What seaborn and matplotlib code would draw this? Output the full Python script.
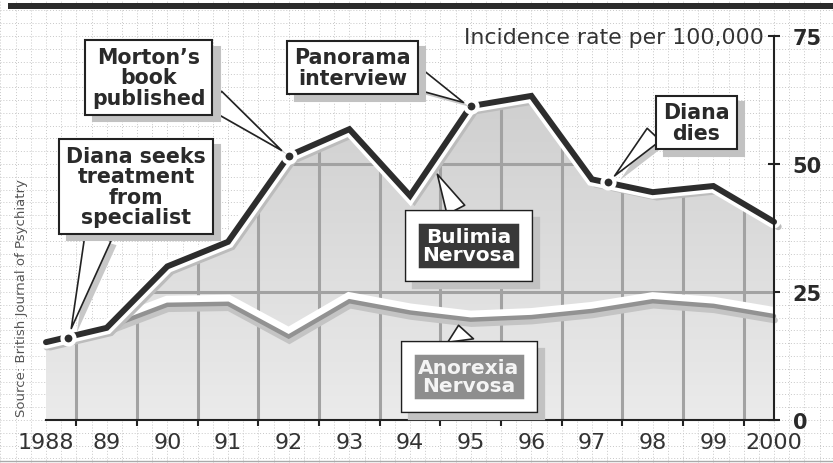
import matplotlib
matplotlib.use("Agg")
import matplotlib.pyplot as plt
import matplotlib.patheffects as pe
from matplotlib.colors import LinearSegmentedColormap
from matplotlib.lines import Line2D
from matplotlib.patches import Rectangle
import numpy as np
import seaborn as sns

# values (incidence per 100,000)
years = [1988, 1989, 1990, 1991, 1992, 1993, 1994, 1995, 1996, 1997, 1998, 1999, 2000]
bulimia = [15.2, 18.0, 30.0, 34.8, 51.6, 56.8, 43.8, 61.3, 63.3, 47.0, 44.5, 45.7, 38.7]
anorexia = [15.0, 18.0, 22.5, 22.7, 16.3, 23.2, 21.0, 19.6, 20.1, 21.3, 23.2, 22.3, 20.3]
year_labels = ["1988", "89", "90", "91", "92", "93", "94", "95", "96", "97", "98", "99", "2000"]
rate_ticks = [0, 25, 50, 75]

# events marked on the bulimia line
event_years = [1988.37, 1992.0, 1995.0, 1997.27]
event_rates = [16.0, 51.6, 61.3, 46.4]
event_names = ["Diana seeks\ntreatment\nfrom\nspecialist", "Morton\u2019s\nbook\npublished",
               "Panorama\ninterview", "Diana\ndies"]

sns.set_style("white")
plt.rcParams["font.family"] = ["DejaVu Sans"]

W, H = 833, 464
fig = plt.figure(figsize=(W / 100, H / 100), dpi=100)
ax = fig.add_axes([0, 0, 1, 1])
x0, sx = 46, 60.67   # px of 1988, px per year
y0, sy = 421, 5.12   # px of 0, px per unit
xlim = (1988 - x0 / sx, 1988 + (W - x0) / sx)
ylim = (-(H - y0) / sy, y0 / sy)

# graph-paper background
ax.vlines(np.arange(1987.25, 2001.0, 0.25), ylim[0], ylim[1], colors="#c8c8c8",
          lw=0.7, linestyles=(0, (1, 2)), zorder=0)
ax.hlines(np.arange(-7.5, 82.5, 2.5), xlim[0], xlim[1], colors="#c8c8c8",
          lw=0.7, linestyles=(0, (1, 2)), zorder=0)

# shaded area under bulimia with gradient
area = ax.fill_between(years, bulimia, 0, color="#e2e2e2", lw=0, zorder=1)
clip = area.get_paths()[0]
cmap = LinearSegmentedColormap.from_list("g", ["#ebebeb", "#cfcfcf"])
grad = np.linspace(0, 1, 256).reshape(-1, 1)
im = ax.imshow(grad, extent=(1988, 2000, 0, max(bulimia)), origin="lower",
               aspect="auto", cmap=cmap, zorder=1.1)
im.set_clip_path(clip, ax.transData)

vl = ax.vlines(np.array(years[:-1]) + 0.5, 0, 80, colors="#a2a2a2", lw=2.2, zorder=1.5)
vl.set_clip_path(clip, ax.transData)
hl = ax.hlines(rate_ticks[1:3], 1988, 2000, colors="#a2a2a2", lw=2.2, zorder=1.5)
hl.set_clip_path(clip, ax.transData)

# anorexia line
sns.lineplot(x=years, y=anorexia, ax=ax, color="#929292", lw=3.2, zorder=3,
             solid_joinstyle="miter",
             path_effects=[pe.Stroke(linewidth=10, foreground="white", offset=(0, 1.5)),
                           pe.SimpleLineShadow(offset=(0.5, -3), shadow_color="#c4c4c4",
                                               alpha=1, linewidth=4.5),
                           pe.Normal()])

# bulimia line
sns.lineplot(x=years, y=bulimia, ax=ax, color="#2d2d2d", lw=4.3, zorder=4,
             solid_joinstyle="miter",
             path_effects=[pe.SimpleLineShadow(offset=(3, -3.5), shadow_color="#bcbcbc",
                                               alpha=1, linewidth=5),
                           pe.Stroke(linewidth=9.5, foreground="white"),
                           pe.Normal()])

sns.scatterplot(x=event_years, y=event_rates, ax=ax, s=75, color="#2d2d2d",
                edgecolor="white", linewidth=3, zorder=5)

# axes
ax.spines["left"].set_visible(False)
ax.spines["top"].set_visible(False)
ax.spines["right"].set_position(("data", 2000))
ax.spines["right"].set_bounds(0, 75)
ax.spines["bottom"].set_position(("data", 0))
ax.spines["bottom"].set_bounds(1988, 2000)
for s in ["right", "bottom"]:
    ax.spines[s].set_color("#222222")
    ax.spines[s].set_linewidth(1.5)
    ax.spines[s].set_zorder(6)

ax.yaxis.tick_right()
ax.set_yticks(rate_ticks)
ax.set_yticklabels([str(v) for v in rate_ticks], fontsize=15, fontweight="bold", color="#2a2a2a")
ax.tick_params(axis="y", right=True, direction="inout", length=9, width=1.5, pad=9,
               color="#222222")
ax.set_xticks(years)
ax.set_xticklabels(year_labels, fontsize=16, color="#333333")
ax.set_xticks(np.array(years[:-1]) + 0.5, minor=True)
ax.tick_params(axis="x", which="major", bottom=True, length=0, pad=9)
ax.tick_params(axis="x", which="minor", bottom=True, direction="out", length=4,
               width=1.5, color="#222222")
ax.get_xticklabels()[-1].set_x(2000.12)

ax.annotate("Incidence rate per 100,000", xy=(2000, 75), xytext=(-10, -1),
            textcoords="offset pixels", ha="right", va="center", fontsize=15.8,
            color="#333333")


def box_fx(outer):
    if outer:
        return [pe.SimplePatchShadow(offset=(5, -5), shadow_rgbFace="#c2c2c2", alpha=1,
                                     foreground="#c2c2c2", linewidth=11),
                pe.Stroke(linewidth=11, foreground="#1e1e1e"), pe.Normal()]
    return [pe.SimplePatchShadow(offset=(5.5, -4.5), shadow_rgbFace="#c2c2c2", alpha=1,
                                 foreground="#c2c2c2", linewidth=1.5), pe.Normal()]


# callout layout: box centre (px from top-left), wedge start on box, wedge width px, gap px
callouts = [((136, 187.5), (0.25, 0), 27, 10),
            ((148.5, 78.5), (1, 0.25), 22, 9),
            ((352.5, 68.5), (1, 0.3), 20, 8),
            ((696.5, 123.5), (0, 0.45), 18, 9)]

fs = 14.8
for name, ex, ey, (c, rel, tw, gap) in zip(event_names, event_years, event_rates, callouts):
    t = ax.annotate(name, xy=(ex, ey), xytext=(c[0], H - c[1]), textcoords="figure pixels",
                    ha="center", va="center", fontsize=fs, fontweight="bold",
                    color="#2a2a2a", linespacing=1.02, zorder=7,
                    bbox=dict(boxstyle="square,pad=0.33", fc="white", ec="#222222", lw=1.5),
                    arrowprops=dict(arrowstyle=f"wedge,tail_width={tw / 1.389 / fs:.2f}",
                                    fc="white", ec="#222222", lw=1.2, relpos=rel,
                                    shrinkB=gap / 1.389))
    t.get_bbox_patch().set_path_effects(box_fx(False))
    t.arrow_patch.set_path_effects([pe.SimplePatchShadow(offset=(4, -3), shadow_rgbFace="#c8c8c8",
                                                         alpha=1, foreground="#c8c8c8"),
                                    pe.Normal()])

series_boxes = [("Bulimia\nNervosa", (1994.45, 48.0), (468.5, 246.5), (0.46, 1), 20, "#383838", "white"),
                ("Anorexia\nNervosa", (1994.8, 18.5), (469, 377.5), (0.44, 1), 26, "#8e8e8e", "#f4f4f4")]
for name, tip, c, rel, tw, fc, tc in series_boxes:
    t = ax.annotate(name, xy=tip, xytext=(c[0], H - c[1]), textcoords="figure pixels",
                    ha="center", va="center", fontsize=14.5, fontweight="bold",
                    color=tc, linespacing=0.95, zorder=7,
                    bbox=dict(boxstyle="square,pad=0.5", fc=fc, ec="white", lw=9),
                    arrowprops=dict(arrowstyle=f"wedge,tail_width={tw / 1.389 / 14.5:.2f}",
                                    fc="white", ec="#222222", lw=1.2, relpos=rel, shrinkB=0))
    t.get_bbox_patch().set_path_effects(box_fx(True))

fig.text(22 / W, 1 - 298 / H, "Source: British Journal of Psychiatry", rotation=90,
         ha="center", va="center", fontsize=9.5, color="#555555")

fig.add_artist(Rectangle((8 / W, 1 - 9.5 / H), 1, 5.5 / H, transform=fig.transFigure,
                         fc="#2b2b2b", ec="none"))
fig.add_artist(Line2D([0, 1], [2 / H, 2 / H], transform=fig.transFigure, color="#aaaaaa", lw=1))

ax.set_xlim(*xlim)
ax.set_ylim(*ylim)
ax.set_xlabel("")
ax.set_ylabel("")
fig.savefig("out.png", dpi=100)
